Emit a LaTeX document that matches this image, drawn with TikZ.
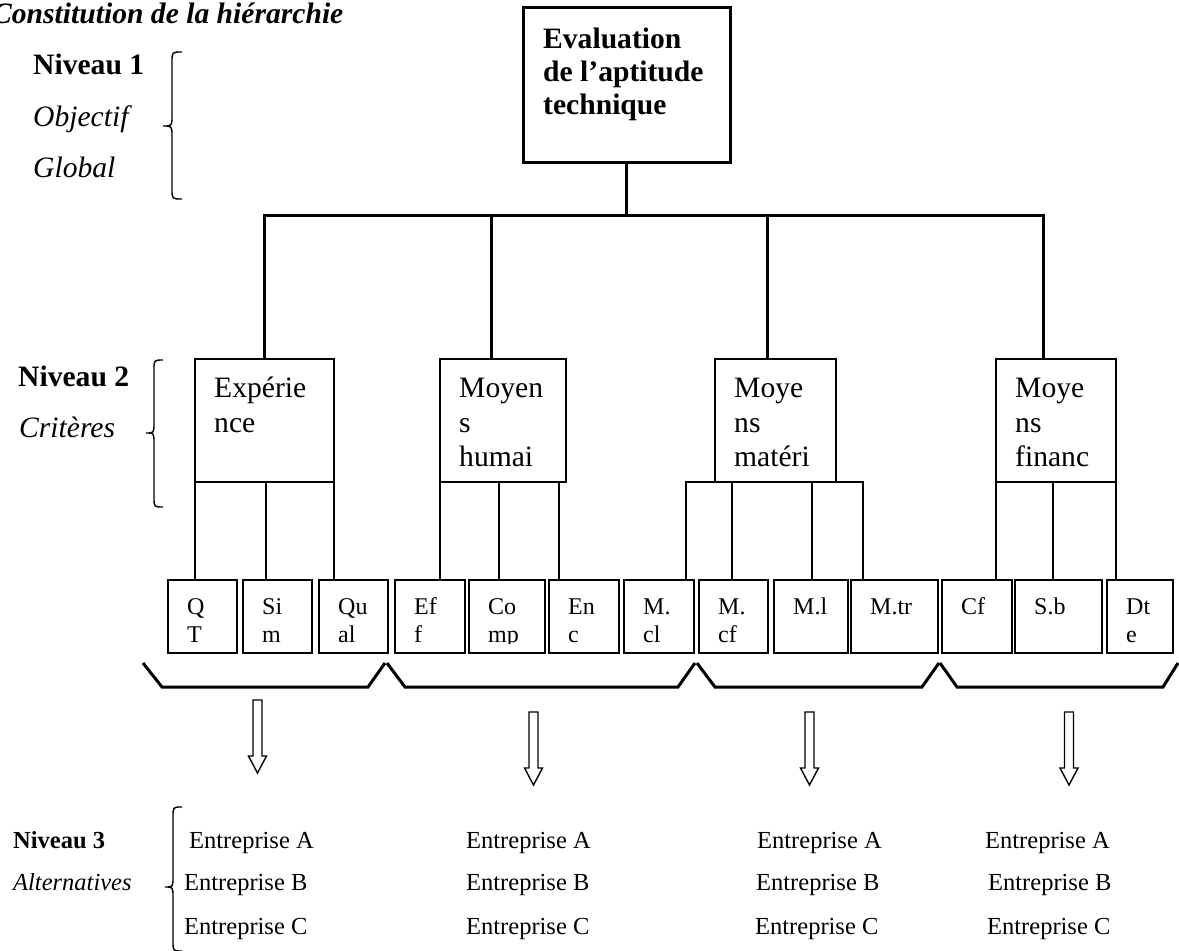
\documentclass[tikz,border=0pt]{standalone}
\usepackage{fontspec}
\setmainfont{Liberation Serif}
\begin{document}
\begin{tikzpicture}[x=1pt,y=-1pt,
  heavy/.style={line width=3pt},
  hair/.style={line width=1.4pt},
  boxed/.style={draw, hair, inner sep=0pt, outer sep=0pt, anchor=north west},
  bigtext/.style={font=\fontsize{29.6}{34}\selectfont, inner sep=0pt, anchor=base west},
  smalltext/.style={font=\fontsize{24.5}{28}\selectfont, inner sep=0pt, anchor=base west},
  celltext/.style={font=\fontsize{24}{28}\selectfont, inner sep=0pt, anchor=base west},
  blockarrow/.pic={\draw[hair] (-4.5,0) -- (4.5,0) -- (4.5,56) -- (9,56) -- (0,73) -- (-9,56) -- (-4.5,56) -- cycle;}
]
\useasboundingbox (0,0) rectangle (1179,951);

% ---------- headings and level labels ----------
\node[bigtext, font=\fontsize{29.6}{34}\selectfont\bfseries\itshape] (title) at (-8,23) {Constitution de la hiérarchie};
\node[bigtext, font=\fontsize{29.6}{34}\selectfont\bfseries] (n1) at (33,74) {Niveau 1};
\node[bigtext, font=\fontsize{29.6}{34}\selectfont\itshape] (obj) at (33,126) {Objectif};
\node[bigtext, font=\fontsize{29.6}{34}\selectfont\itshape] (glob) at (33,177) {Global};
\node[bigtext, font=\fontsize{29.6}{34}\selectfont\bfseries] (n2) at (18,386) {Niveau 2};
\node[bigtext, font=\fontsize{29.6}{34}\selectfont\itshape] (crit) at (19,437) {Critères};
\node[smalltext, font=\fontsize{24.5}{28}\selectfont\bfseries] (n3) at (13,848) {Niveau 3};
\node[smalltext, font=\fontsize{24.5}{28}\selectfont\itshape] (alt) at (13,890) {Alternatives};

% ---------- braces ----------
\draw[hair] (182,52) .. controls (172,52) .. (172,62) -- (172,116)
  .. controls (172,126) .. (163,126) .. controls (172,126) .. (172,136)
  -- (172,189) .. controls (172,199) .. (182,199);
\draw[hair] (163,360) .. controls (154,360) .. (154,370) -- (154,423)
  .. controls (154,433) .. (146,433) .. controls (154,433) .. (154,443)
  -- (154,497) .. controls (154,507) .. (163,507);
\draw[hair] (182,807) .. controls (173,807) .. (173,817) -- (173,877)
  .. controls (173,887) .. (165,887) .. controls (173,887) .. (173,897)
  -- (173,941) .. controls (173,951) .. (182,951);

% ---------- goal ----------
\node[boxed, heavy, minimum width=207pt, minimum height=155pt] (top) at (523,7) {};
\node[bigtext, font=\fontsize{29.6}{34}\selectfont\bfseries] (top-a) at (543,48) {Evaluation};
\node[bigtext, font=\fontsize{29.6}{34}\selectfont\bfseries] (top-b) at (543,81) {de l’aptitude};
\node[bigtext, font=\fontsize{29.6}{34}\selectfont\bfseries] (top-c) at (543,114) {technique};

% ---------- criteria ----------
\node[boxed, minimum width=139pt, minimum height=123pt] (exp) at (195,359) {};
\node[boxed, minimum width=126pt, minimum height=123pt] (hum) at (440,359) {};
\node[boxed, minimum width=121pt, minimum height=123pt] (mat) at (715,359) {};
\node[boxed, minimum width=120pt, minimum height=123pt] (fin) at (996,359) {};

\node[bigtext] (exp-a) at (214,397) {Expérie};
\node[bigtext] (exp-b) at (214,432) {nce};
\node[bigtext] (hum-a) at (459,397) {Moyen};
\node[bigtext] (hum-b) at (459,432) {s};
\node[bigtext] (hum-c) at (459,466) {humai};
\node[bigtext] (mat-a) at (734,397) {Moye};
\node[bigtext] (mat-b) at (734,432) {ns};
\node[bigtext] (mat-c) at (734,466) {matéri};
\node[bigtext] (fin-a) at (1015,397) {Moye};
\node[bigtext] (fin-b) at (1015,432) {ns};
\node[bigtext] (fin-c) at (1015,466) {financ};

% ---------- sub-criteria ----------
\node[boxed, minimum width=69pt, minimum height=73pt] (qt)   at (168,580) {};
\node[boxed, minimum width=69pt, minimum height=73pt] (sim)  at (243,580) {};
\node[boxed, minimum width=69pt, minimum height=73pt] (qual) at (319,580) {};
\node[boxed, minimum width=70pt, minimum height=73pt] (eff)  at (395,580) {};
\node[boxed, minimum width=76pt, minimum height=73pt] (comp) at (469,580) {};
\node[boxed, minimum width=70pt, minimum height=73pt] (enc)  at (549,580) {};
\node[boxed, minimum width=70pt, minimum height=73pt] (mcl)  at (624,580) {};
\node[boxed, minimum width=69pt, minimum height=73pt] (mcf)  at (699,580) {};
\node[boxed, minimum width=74pt, minimum height=73pt] (ml)   at (774,580) {};
\node[boxed, minimum width=87pt, minimum height=73pt] (mtr)  at (851,580) {};
\node[boxed, minimum width=70pt, minimum height=73pt] (cf)   at (942,580) {};
\node[boxed, minimum width=87pt, minimum height=73pt] (sb)   at (1015,580) {};
\node[boxed, minimum width=66pt, minimum height=73pt] (dte)  at (1107,580) {};

\node[celltext] (qt-a)   at (187,614) {Q};
\node[celltext] (qt-b)   at (187,642) {T};
\node[celltext] (sim-a)  at (262,614) {Si};
\node[celltext] (sim-b)  at (262,642) {m};
\node[celltext] (qual-a) at (338,614) {Qu};
\node[celltext] (qual-b) at (338,642) {al};
\node[celltext] (eff-a)  at (414,614) {Ef};
\node[celltext] (eff-b)  at (414,642) {f};
\begin{scope}
  \clip (469,580) rectangle (545,643);
  \node[celltext] (comp-a) at (488,614) {Co};
  \node[celltext] (comp-b) at (488,642) {mp};
\end{scope}
\node[celltext] (enc-a)  at (568,614) {En};
\node[celltext] (enc-b)  at (568,642) {c};
\node[celltext] (mcl-a)  at (643,614) {M.};
\node[celltext] (mcl-b)  at (643,642) {cl};
\node[celltext] (mcf-a)  at (718,614) {M.};
\node[celltext] (mcf-b)  at (718,642) {cf};
\node[celltext] (ml-a)   at (793,614) {M.l};
\node[celltext] (mtr-a)  at (870,614) {M.tr};
\node[celltext] (cf-a)   at (961,614) {Cf};
\node[celltext] (sb-a)   at (1034,614) {S.b};
\node[celltext] (dte-a)  at (1126,614) {Dt};
\node[celltext] (dte-b)  at (1126,642) {e};

% ---------- goal to criteria ----------
\coordinate (b1) at (264,215);
\coordinate (b2) at (491,215);
\coordinate (b3) at (767,215);
\coordinate (b4) at (1043,215);
\draw[heavy] (top.south) -- (top.south |- b1);
\draw[heavy] (b1 |- exp.north) -- (b1) -- (b4) -- (b4 |- fin.north);
\draw[heavy] (b2) -- (b2 |- hum.north);
\draw[heavy] (b3) -- (b3 |- mat.north);

% ---------- criteria to sub-criteria ----------
\coordinate (e2) at (266,482);
\coordinate (h2) at (499,482);
\coordinate (h3) at (559,482);
\coordinate (m1) at (686,482);
\coordinate (m2) at (732,482);
\coordinate (m3) at (812,482);
\coordinate (m4) at (863,482);
\coordinate (f2) at (1053,482);
\draw[hair] (exp.south west) -- (exp.south west |- qt.north);
\draw[hair] (e2) -- (e2 |- sim.north);
\draw[hair] (exp.south east) -- (exp.south east |- qual.north);
\draw[hair] (hum.south west) -- (hum.south west |- eff.north);
\draw[hair] (h2) -- (h2 |- comp.north);
\draw[hair] (h3) -- (h3 |- enc.north);
\draw[hair] (m1 |- mcl.north) -- (m1) -- (m4) -- (m4 |- mtr.north);
\draw[hair] (m2) -- (m2 |- mcf.north);
\draw[hair] (m3) -- (m3 |- ml.north);
\draw[hair] (fin.south west) -- (fin.south west |- cf.north);
\draw[hair] (f2) -- (f2 |- sb.north);
\draw[hair] (fin.south east) -- (fin.south east |- dte.north);

% ---------- grouping brackets ----------
\draw[heavy] (143,663) -- (162,687) -- (368,687) -- (385,663);
\draw[heavy] (387,663) -- (405,687) -- (678,687) -- (695,663);
\draw[heavy] (697,663) -- (715,687) -- (922,687) -- (939,663);
\draw[heavy] (940,663) -- (957,687) -- (1163,687) -- (1178,663);

% ---------- block arrows ----------
\pic at (257.5,700) {blockarrow};
\pic at (533.5,712) {blockarrow};
\pic at (809.5,712) {blockarrow};
\pic at (1069,712) {blockarrow};

% ---------- alternatives ----------
\node[smalltext] (a1) at (189,848) {Entreprise A};
\node[smalltext] (b1t) at (184,890) {Entreprise B};
\node[smalltext] (c1) at (184,934) {Entreprise C};
\node[smalltext] (a2) at (466,848) {Entreprise A};
\node[smalltext] (b2t) at (466,890) {Entreprise B};
\node[smalltext] (c2) at (466,934) {Entreprise C};
\node[smalltext] (a3) at (757,848) {Entreprise A};
\node[smalltext] (b3t) at (756,890) {Entreprise B};
\node[smalltext] (c3) at (755,934) {Entreprise C};
\node[smalltext] (a4) at (985,848) {Entreprise A};
\node[smalltext] (b4t) at (988,890) {Entreprise B};
\node[smalltext] (c4) at (987,934) {Entreprise C};
\end{tikzpicture}
\end{document}
